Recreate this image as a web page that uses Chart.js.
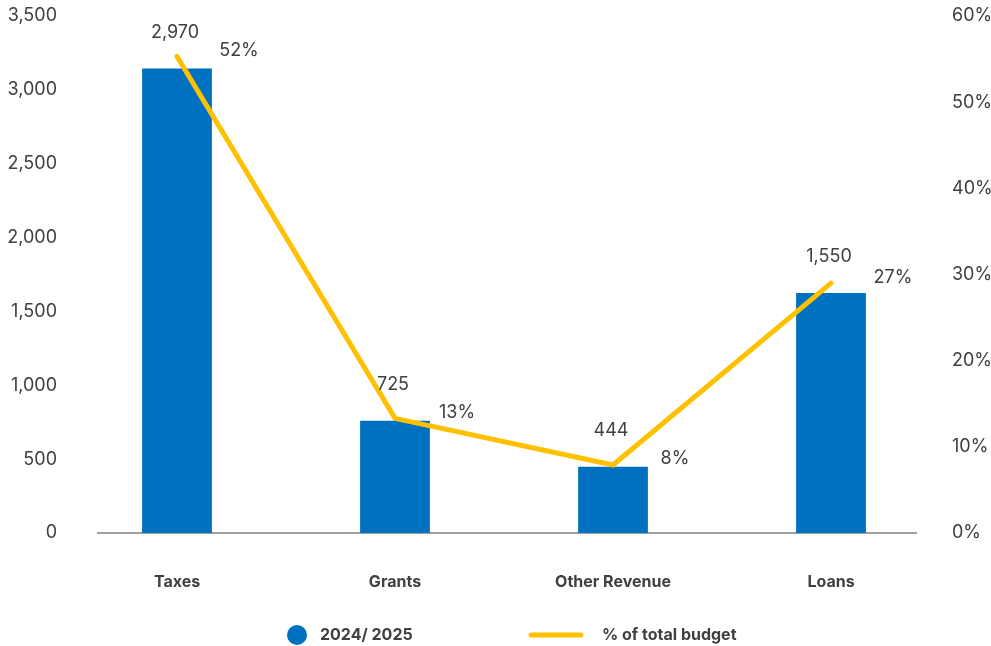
<!DOCTYPE html>
<html>
<head>
<meta charset="utf-8">
<script src="https://cdn.jsdelivr.net/npm/chart.js@4/dist/chart.umd.min.js"></script>
<style>
  html, body { margin: 0; padding: 0; background: #fff; }
  #wrap { width: 991px; height: 646px; position: relative; }
</style>
</head>
<body>
<div id="wrap"><canvas id="budget"></canvas></div>
<script>
// revenue sources vs share of total budget
const categories = ['Taxes', 'Grants', 'Other Revenue', 'Loans'];
const barValues = [3145, 760, 448, 1625];
const barLabels = ['2,970', '725', '444', '1,550'];
const pctValues = [55.3, 13.3, 7.9, 29.0];
const pctLabels = ['52%', '13%', '8%', '27%'];
const leftTicks = [0, 500, 1000, 1500, 2000, 2500, 3000, 3500];
const rightTicks = [0, 10, 20, 30, 40, 50, 60];

const BLUE = '#0070C0';
const GOLD = '#FFC000';
const TEXT = '#404040';
const FONT = 'Inter, "Noto Sans", sans-serif';

// value labels, baseline and legend
const extras = {
    id: 'extras',
    beforeDatasetsDraw(chart) {
        const { ctx, chartArea } = chart;
        const y = chart.scales.y.getPixelForValue(0);
        ctx.save();
        ctx.strokeStyle = '#808080';
        ctx.lineWidth = 1.5;
        ctx.beginPath();
        ctx.moveTo(chartArea.left + 29, y);
        ctx.lineTo(chartArea.right - 23, y);
        ctx.stroke();
        ctx.restore();
    },
    afterDatasetsDraw(chart) {
        const { ctx } = chart;
        ctx.save();
        ctx.font = '400 18px ' + FONT;
        ctx.fillStyle = TEXT;
        ctx.textAlign = 'center';
        ctx.textBaseline = 'middle';
        chart.getDatasetMeta(1).data.forEach((bar, i) => {
            ctx.fillText(barLabels[i], bar.x - 2, bar.y - 36);
        });
        chart.getDatasetMeta(0).data.forEach((pt, i) => {
            ctx.fillText(pctLabels[i], pt.x + 62, pt.y - 6);
        });

        // legend
        const ly = 635;
        ctx.font = '700 16px ' + FONT;
        ctx.textAlign = 'left';
        ctx.fillStyle = BLUE;
        ctx.beginPath();
        ctx.arc(297, ly, 10, 0, Math.PI * 2);
        ctx.fill();
        ctx.fillStyle = TEXT;
        ctx.fillText(chart.data.datasets[1].label, 320, ly);
        ctx.strokeStyle = GOLD;
        ctx.lineWidth = 5;
        ctx.lineCap = 'round';
        ctx.beginPath();
        ctx.moveTo(531, ly);
        ctx.lineTo(581, ly);
        ctx.stroke();
        ctx.fillText(chart.data.datasets[0].label, 602, ly);
        ctx.restore();
    }
};

const fitY = (w) => (s) => { s.width = w; s.paddingTop = 0; s.paddingBottom = 0; };

new Chart(document.getElementById('budget').getContext('2d'), {
    data: {
        labels: categories,
        datasets: [{
            type: 'line',
            label: '% of total budget',
            data: pctValues,
            yAxisID: 'y1',
            borderColor: GOLD,
            borderWidth: 5,
            borderCapStyle: 'round',
            borderJoinStyle: 'miter',
            pointRadius: 0,
            tension: 0,
            order: 0,
        }, {
            type: 'bar',
            label: '2024/ 2025',
            data: barValues,
            yAxisID: 'y',
            backgroundColor: BLUE,
            barPercentage: 0.8,
            categoryPercentage: 0.4,
            order: 1,
        }],
    },
    options: {
        responsive: true,
        maintainAspectRatio: false,
        animation: false,
        layout: { padding: { top: 16, bottom: 0, left: 0, right: 0 } },
        plugins: {
            legend: { display: false },
            tooltip: { enabled: false },
        },
        scales: {
            x: {
                grid: { display: false, drawTicks: false },
                border: { display: false },
                ticks: { color: TEXT, font: { family: FONT, size: 16, weight: '700' }, padding: 40 },
                afterFit: (s) => { s.height = 113; s.paddingLeft = 0; s.paddingRight = 0; },
            },
            y: {
                position: 'left',
                min: 0,
                max: 3500,
                afterBuildTicks: (s) => { s.ticks = leftTicks.map((v) => ({ value: v })); },
                grid: { display: false, drawTicks: false },
                border: { display: false },
                ticks: {
                    color: TEXT,
                    font: { family: FONT, size: 18 },
                    padding: 11,
                    callback: (v) => v.toLocaleString('en-US'),
                },
                afterFit: fitY(68),
            },
            y1: {
                position: 'right',
                min: 0,
                max: 60,
                afterBuildTicks: (s) => { s.ticks = rightTicks.map((v) => ({ value: v })); },
                grid: { display: false, drawTicks: false },
                border: { display: false },
                ticks: {
                    color: TEXT,
                    font: { family: FONT, size: 18 },
                    padding: 12,
                    callback: (v) => v + '%',
                },
                afterFit: fitY(51),
            },
        },
    },
    plugins: [extras],
});
</script>
</body>
</html>
